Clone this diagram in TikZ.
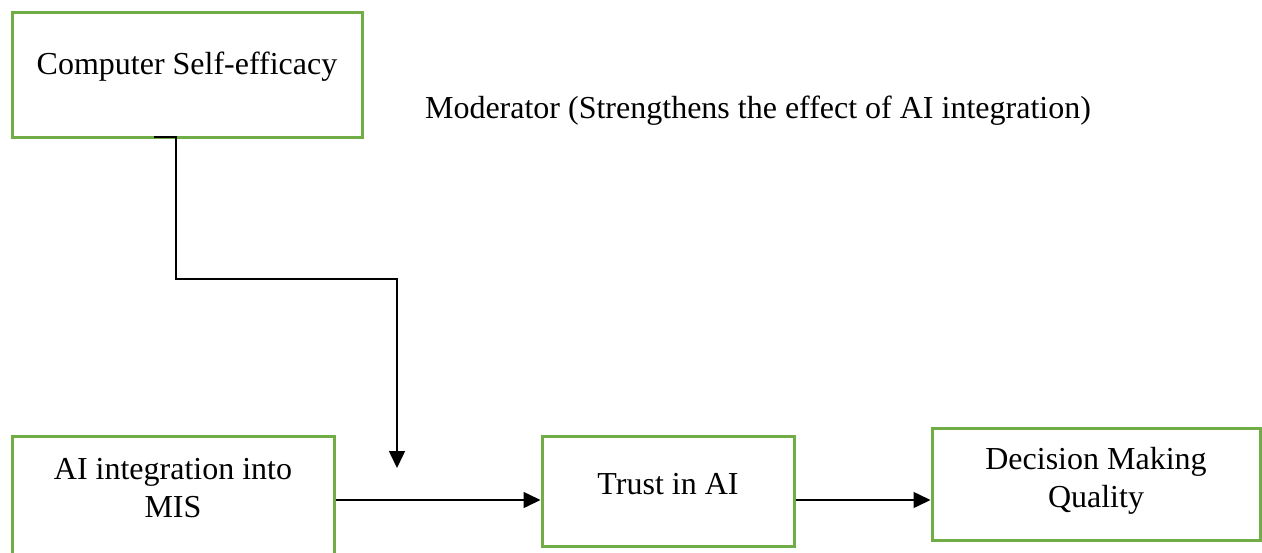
\documentclass[tikz,border=0pt]{standalone}
\usepackage{fontspec}
\setmainfont{Liberation Serif}
\usetikzlibrary{arrows.meta}
\definecolor{boxgreen}{RGB}{112,173,71}
\begin{document}
\begin{tikzpicture}[x=1pt,y=-1pt,
  box/.style={draw=boxgreen, line width=3pt, rectangle, inner sep=0pt},
  lbl/.style={font=\fontsize{32}{38.5}\selectfont, align=center, inner sep=0pt},
  conn/.style={draw=black, line width=1.5pt},
  tip/.style={-{Triangle[length=17pt,width=16pt]}},
  arr/.style={conn, tip}]
\useasboundingbox (0,0) rectangle (1262,552);
\clip (0,0) rectangle (1262,552);
% boxes
\node[box, minimum width=350pt, minimum height=125pt] (cse) at (187,74.5) {};
\node[box, minimum width=322pt, minimum height=140pt] (ai) at (173,506) {};
\node[box, minimum width=252pt, minimum height=110pt] (trust) at (668,491) {};
\node[box, minimum width=328pt, minimum height=112pt] (dmq) at (1096,484) {};
% texts
\node[lbl] (cset) at (187,67) {Computer Self-efficacy};
\node[lbl] (ait) at (173,488) {AI integration into\\MIS};
\node[lbl] (trustt) at (668,484) {Trust in AI};
\node[lbl] (dmqt) at (1096,481) {Decision Making\\Quality};
\node[lbl] (mod) at (758,111) {Moderator (Strengthens the effect of AI integration)};
% connectors
\coordinate (s0) at (154,137);
\coordinate (s1) at (176,137);
\coordinate (s2) at (176,279);
\coordinate (s3) at (397,279);
\coordinate (s4) at (397,468);
\draw[arr] (s0) -- (s1) -- (s2) -- (s3) -- (s4);
\draw[arr] (ai.east |- 0,500) -- (trust.west |- 0,500);
\draw[arr] (trust.east |- 0,500) -- (dmq.west |- 0,500);
\end{tikzpicture}
\end{document}
